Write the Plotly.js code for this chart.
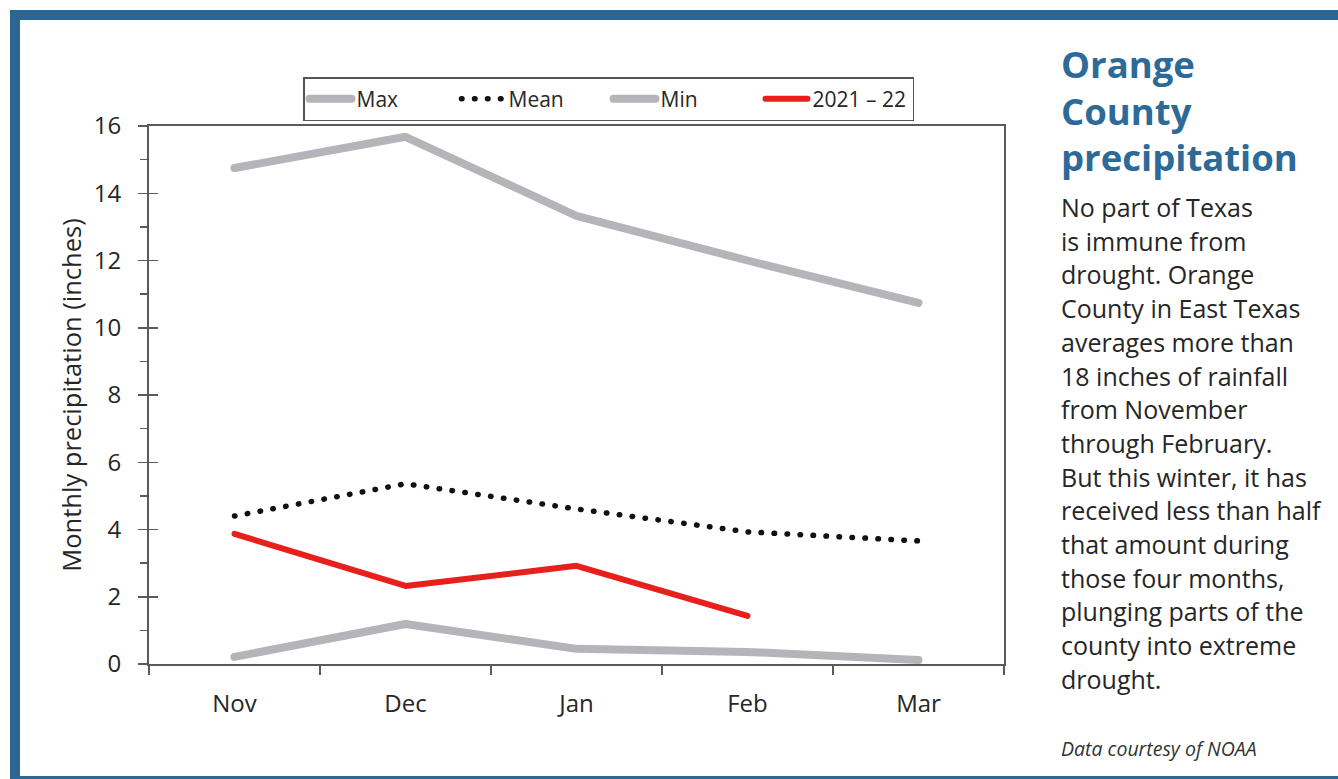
<!DOCTYPE html>
<html>
<head>
<meta charset="utf-8">
<script src="https://cdn.plot.ly/plotly-3.0.1.min.js"></script>
<style>
  html, body { margin: 0; padding: 0; background: #ffffff; overflow: hidden; }
  #frame { position: absolute; left: 10px; top: 10px; width: 1400px; height: 776px;
           box-sizing: border-box; border: 10px solid #2b6792; background: #ffffff; }
  #chart { position: absolute; left: 0; top: 0; width: 1338px; height: 779px; }
  #chart .scatterlayer path.js-line, #chart .legend path.js-line { stroke-linecap: round; stroke-linejoin: round; }
</style>
</head>
<body>
<div id="frame"></div>
<div id="chart"></div>
<script>
// ---- Data ----
const months = ["Nov", "Dec", "Jan", "Feb", "Mar"];
const maxVals = [14.75, 15.68, 13.33, 12.0, 10.74];
const meanVals = [4.40, 5.36, 4.61, 3.93, 3.66];
const minVals = [0.21, 1.19, 0.45, 0.36, 0.12];
const season2122Months = ["Nov", "Dec", "Jan", "Feb"];
const season2122Vals = [3.87, 2.32, 2.92, 1.43];
const seriesNames = ["Max", "Mean", "Min", "2021 – 22"];
const yTitle = "Monthly precipitation (inches)";
const titleLines = ["Orange", "County", "precipitation"];
const bodyLines = ["No part of Texas", "is immune from", "drought. Orange", "County in East Texas",
  "averages more than", "18 inches of rainfall", "from November", "through February.",
  "But this winter, it has", "received less than half", "that amount during",
  "those four months,", "plunging parts of the", "county into extreme", "drought."];
const sourceNote = "Data courtesy of NOAA";

// ---- Layout geometry ----
const W = 1338, H = 779;
const L = 149, T = 126, R = 1004, B = 664;
const px = x => (x - L) / (R - L);
const py = y => (B - y) / (B - T);

const FONT = "'Open Sans', 'Noto Sans', sans-serif";
const gray = "#b4b5b9";
const textColor = "#262626";

const traces = [
  { x: months, y: maxVals, name: seriesNames[0], type: "scatter", mode: "lines",
    line: { color: gray, width: 8 } },
  { x: months, y: meanVals, name: seriesNames[1], type: "scatter", mode: "lines",
    line: { color: "#111111", width: 5.5, dash: "0.5px,12.5px" } },
  { x: months, y: minVals, name: seriesNames[2], type: "scatter", mode: "lines",
    line: { color: gray, width: 8 } },
  { x: season2122Months, y: season2122Vals, name: seriesNames[3], type: "scatter", mode: "lines",
    line: { color: "#e8201c", width: 6 } },
  { x: [], y: [], yaxis: "y2", showlegend: false, hoverinfo: "skip", type: "scatter" }
];

const annotations = [];
titleLines.forEach((t, i) => {
  annotations.push({ xref: "paper", yref: "paper", x: px(1059), y: py(64 + i * 46.5),
    xanchor: "left", yanchor: "middle", showarrow: false, text: "<b>" + t + "</b>",
    font: { family: FONT, size: 36.5, color: "#2d6a98" } });
});
bodyLines.forEach((t, i) => {
  annotations.push({ xref: "paper", yref: "paper", x: px(1059), y: py(207 + i * 33.7),
    xanchor: "left", yanchor: "middle", showarrow: false, text: t,
    font: { family: FONT, size: 25, color: textColor } });
});
annotations.push({ xref: "paper", yref: "paper", x: px(1059), y: py(748),
  xanchor: "left", yanchor: "middle", showarrow: false, text: "<i>" + sourceNote + "</i>",
  font: { family: FONT, size: 19.5, color: "#333333" } });

const axisColor = "#5a5a5a";
const layout = {
  width: W, height: H,
  margin: { l: L, r: W - R, t: T, b: H - B, pad: 0 },
  paper_bgcolor: "rgba(0,0,0,0)", plot_bgcolor: "rgba(0,0,0,0)",
  font: { family: FONT, color: textColor },
  showlegend: true,
  legend: { orientation: "h", x: px(303), y: py(77), xanchor: "left", yanchor: "top",
    bordercolor: "#555555", borderwidth: 1.5, bgcolor: "#ffffff",
    font: { family: FONT, size: 21, color: textColor }, traceorder: "normal",
    itemwidth: 42, entrywidth: 95, entrywidthmode: "pixels" },
  xaxis: {
    type: "category", range: [-0.5, 4.5], tickson: "boundaries",
    ticks: "outside", ticklen: 9, tickwidth: 1.5, tickcolor: axisColor,
    showline: true, linecolor: axisColor, linewidth: 2, mirror: true,
    showgrid: false, zeroline: false, fixedrange: true,
    tickfont: { family: FONT, size: 24, color: textColor }, ticklabelstandoff: 17
  },
  yaxis: {
    range: [0, 16], dtick: 2, tick0: 0,
    ticks: "outside", ticklen: 9, tickwidth: 1.5, tickcolor: axisColor,
    minor: { dtick: 1, ticks: "outside", ticklen: 7, tickwidth: 1.5, tickcolor: axisColor },
    showline: true, linecolor: axisColor, linewidth: 2, mirror: true,
    showgrid: false, zeroline: false, fixedrange: true,
    tickfont: { family: FONT, size: 24, color: textColor }, ticklabelstandoff: 12,
    title: { text: yTitle, font: { family: FONT, size: 25.5, color: textColor }, standoff: 5 }
  },
  yaxis2: {
    overlaying: "y", side: "left", range: [0, 16], dtick: 2, tick0: 0,
    ticks: "inside", ticklen: 9, tickwidth: 1.5, tickcolor: axisColor,
    showticklabels: false, showline: false, showgrid: false, zeroline: false, fixedrange: true
  },
  annotations: annotations
};

Plotly.newPlot("chart", traces, layout, { staticPlot: true, displayModeBar: false });
</script>
</body>
</html>
